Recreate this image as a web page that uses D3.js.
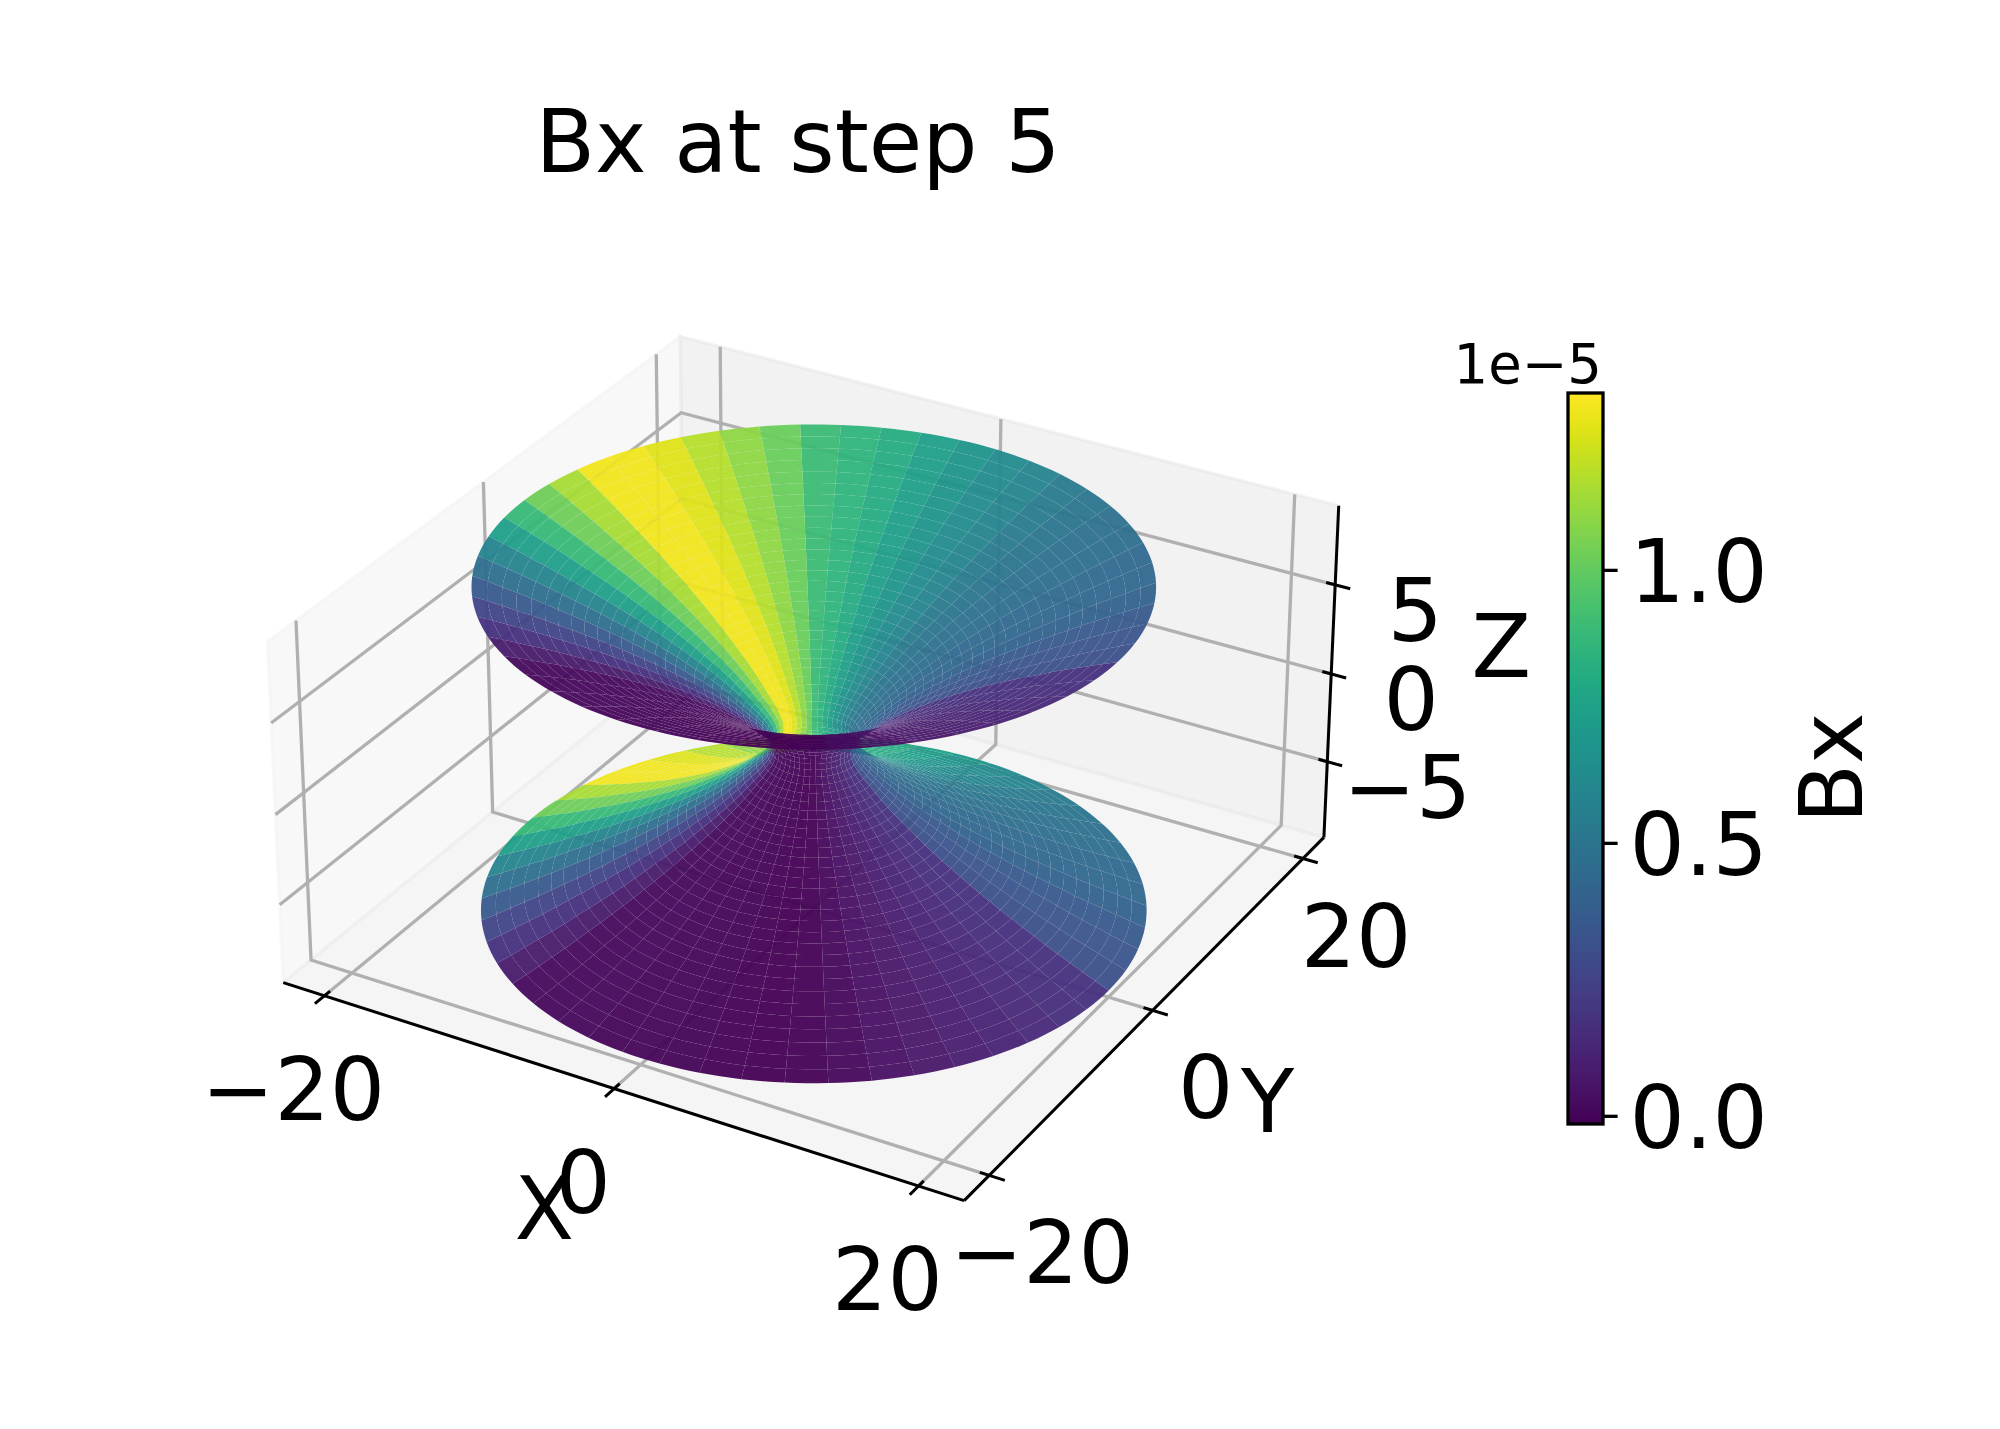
<!DOCTYPE html>
<html><head><meta charset="utf-8">
<script src="https://cdn.jsdelivr.net/npm/d3@7"></script>
<style>html,body{margin:0;background:#fff}svg{display:block}text{font-family:"DejaVu Sans";fill:#000}</style>
</head><body><svg id="c" width="2000" height="1429"></svg>
<script>
// ---- data ----
const titleText = "Bx at step 5";
const bxExponent = "1e\u22125";
const xyTicks = [-20, 0, 20];
const zTicks = [-5, 0, 5];
const barTicks = [0, 0.5, 1];
const barDomain = [-0.015, 1.324];
// Bx (×1e-5) of each of the 50 angular sectors, counter-clockwise from +X
const sectorBx = [0.306,0.333,0.360,0.400,0.427,0.440,0.467,0.480,0.501,0.534,
  0.588,0.628,0.681,0.735,0.802,0.855,0.896,1.016,1.096,1.177,
  1.257,1.297,1.297,1.150,1.029,0.882,0.735,0.588,0.467,0.360,
  0.253,0.172,0.079,0.018,0.012,0.012,0.005,0.001,-0.004,-0.009,
  -0.015,-0.008,0.012,0.039,0.065,0.092,0.112,0.132,0.159,0.172];
// upper half of the surface profile, mirrored for the lower half
const ringZ = [0,0.3,0.6,0.9,1.2,1.5,1.8,2.1,2.4,2.7,3,3.3,3.6,3.9,4.2,4.5,4.8,5.1,5.4,5.7,6,6.3,6.6,6.9,7.2,7.5,7.8,8.1,8.4,8.7,9];
const ringR = [2.5,2.56,2.75,3.05,3.4,3.8,4.2,4.6,5.05,5.5,6,6.5,7.05,7.6,8.15,8.75,9.35,10,10.65,11.3,12,12.7,13.45,14.2,15,15.75,16.55,17.4,18.25,19.1,20];

// ---- 3D view ----
const elev = 29*Math.PI/180, azim = -60*Math.PI/180, dist = 10;
const lim = {x:[-22,22], y:[-22,22], z:[-9,9]};
const pad = a => (a[1]-a[0])/48;
const bx = [lim.x[0]-pad(lim.x), lim.x[1]+pad(lim.x)],
      by = [lim.y[0]-pad(lim.y), lim.y[1]+pad(lim.y)],
      bz = [lim.z[0]-pad(lim.z), lim.z[1]+pad(lim.z)];
const box = [1.19,1.19,1.19*0.485];
const wx = d3.scaleLinear().domain(lim.x).range([0,box[0]]);
const wy = d3.scaleLinear().domain(lim.y).range([0,box[1]]);
const wz = d3.scaleLinear().domain(lim.z).range([0,box[2]]);
const R = box.map(v=>v/2);
const nV = [Math.cos(elev)*Math.cos(azim), Math.cos(elev)*Math.sin(azim), Math.sin(elev)];
const E = R.map((v,i)=>v+dist*nV[i]);
const cross=(a,b)=>[a[1]*b[2]-a[2]*b[1],a[2]*b[0]-a[0]*b[2],a[0]*b[1]-a[1]*b[0]];
const dot=(a,b)=>a[0]*b[0]+a[1]*b[1]+a[2]*b[2];
let uV = cross([0,0,1],nV); const ul=Math.hypot(...uV); uV=uV.map(v=>v/ul);
const vV = cross(nV,uV);
function proj(x,y,z){
  const p=[wx(x)-E[0],wy(y)-E[1],wz(z)-E[2]];
  const ze=dot(p,nV);
  return {px:dot(p,uV)/-ze, py:dot(p,vV)/-ze, depth:-ze};
}
const sx=d3.scaleLinear().domain([0,1]).range([813.8,813.8+6232.6]);
const sy=d3.scaleLinear().domain([0,1]).range([742.9,742.9-6393.8]);
const P=(x,y,z)=>{const p=proj(x,y,z);return [sx(p.px),sy(p.py)];};
const color=d3.scaleSequential(d3.interpolateViridis).domain(barDomain);

const svg=d3.select("#c");
const closed=d3.line().curve(d3.curveLinearClosed);
const open=d3.line();

// panes
const panes=[
 {c:"rgba(242,242,242,0.5)",pts:[[bx[0],by[0],bz[0]],[bx[0],by[1],bz[0]],[bx[0],by[1],bz[1]],[bx[0],by[0],bz[1]]]},
 {c:"rgba(230,230,230,0.5)",pts:[[bx[0],by[1],bz[0]],[bx[1],by[1],bz[0]],[bx[1],by[1],bz[1]],[bx[0],by[1],bz[1]]]},
 {c:"rgba(236,236,236,0.5)",pts:[[bx[0],by[0],bz[0]],[bx[1],by[0],bz[0]],[bx[1],by[1],bz[0]],[bx[0],by[1],bz[0]]]}
];
svg.append("g").selectAll("path").data(panes).join("path")
  .attr("d",d=>closed(d.pts.map(p=>P(...p))))
  .attr("fill",d=>d.c).attr("stroke",d=>d.c).attr("stroke-width",3.3);

// grid
const gridLines=[
 ...xyTicks.map(t=>[[t,by[0],bz[0]],[t,by[1],bz[0]],[t,by[1],bz[1]]]),
 ...xyTicks.map(t=>[[bx[1],t,bz[0]],[bx[0],t,bz[0]],[bx[0],t,bz[1]]]),
 ...zTicks.map(t=>[[bx[0],by[0],t],[bx[0],by[1],t],[bx[1],by[1],t]])
];
svg.append("g").selectAll("path").data(gridLines).join("path")
  .attr("d",d=>open(d.map(p=>P(...p))))
  .attr("fill","none").attr("stroke","#b0b0b0").attr("stroke-width",3.3).attr("stroke-linejoin","miter");

// axis lines + ticks
const axisLines=[
 [[bx[0],by[0],bz[0]],[bx[1],by[0],bz[0]]],
 [[bx[1],by[0],bz[0]],[bx[1],by[1],bz[0]]],
 [[bx[1],by[1],bz[0]],[bx[1],by[1],bz[1]]]
];
const tIn=0.6,tOut=1.0;
const tickLines=[
 ...xyTicks.map(t=>[[t,by[0]+tIn,bz[0]],[t,by[0]-tOut,bz[0]]]),
 ...xyTicks.map(t=>[[bx[1]-tIn,t,bz[0]],[bx[1]+tOut,t,bz[0]]]),
 ...zTicks.map(t=>[[bx[1]-tIn,by[1],t],[bx[1]+tOut,by[1],t]])
];
svg.append("g").selectAll("path").data(axisLines.concat(tickLines)).join("path")
  .attr("d",d=>open(d.map(p=>P(...p))))
  .attr("fill","none").attr("stroke","#000").attr("stroke-width",3);

// tick labels
const fmt=t=>(t<0?"\u2212":"")+Math.abs(t);
const tickLabels=[
 ...xyTicks.map(t=>({s:fmt(t),at:P(t,by[0],bz[0]),dx:-31,dy:92})),
 ...xyTicks.map(t=>({s:fmt(t),at:P(bx[1],t,bz[0]),dx:53,dy:76})),
 ...zTicks.map(t=>({s:fmt(t),at:P(bx[1],by[1],t),dx:80,dy:24}))
];
const fs=87;
svg.append("g").selectAll("text").data(tickLabels).join("text")
  .attr("x",d=>d.at[0]+d.dx).attr("y",d=>d.at[1]+d.dy+32)
  .attr("text-anchor","middle").attr("font-size",fs).text(d=>d.s);

// axis titles
const mid=(a,b)=>(a+b)/2;
const axisTitles=[
 {s:"X",at:P(mid(bx[0],bx[1]),by[0],bz[0]),dx:-70,dy:118},
 {s:"Y",at:P(bx[1],mid(by[0],by[1]),bz[0]),dx:115,dy:90},
 {s:"Z",at:P(bx[1],by[1],mid(bz[0],bz[1])),dx:170,dy:-29}
];
svg.append("g").selectAll("text").data(axisTitles).join("text")
  .attr("x",d=>d.at[0]+d.dx).attr("y",d=>d.at[1]+d.dy+32)
  .attr("text-anchor","middle").attr("font-size",fs).text(d=>d.s);

// surface
const zs=ringZ.slice(1).reverse().map(v=>-v).concat(ringZ);
const rs=ringR.slice(1).reverse().concat(ringR);
const nS=sectorBx.length, step=2*Math.PI/nS;
const arc=[0,0.25,0.5,0.75,1];            // vertices along each ring edge, so the rim stays round
const quads=[];
for(let i=0;i<nS;i++)for(let j=0;j<zs.length-1;j++){
  const lo=arc.map(f=>[rs[j],(i+f)*step,zs[j]]);
  const hi=arc.map(f=>[rs[j+1],(i+f)*step,zs[j+1]]).reverse();
  const c=lo.concat(hi).map(([r,t,z])=>proj(r*Math.cos(t),r*Math.sin(t),z));
  quads.push({v:sectorBx[i],pts:c.map(p=>[sx(p.px),sy(p.py)]),depth:d3.mean(c,p=>p.depth)});
}
quads.sort((a,b)=>b.depth-a.depth);
svg.append("g").selectAll("path").data(quads).join("path")
  .attr("d",d=>closed(d.pts)).attr("fill",d=>color(d.v)).attr("fill-opacity",0.95);

// title
svg.append("text").attr("x",798).attr("y",172).attr("text-anchor","middle").attr("font-size",fs).text(titleText);

// colourbar
const barX=[1568,1603], barY=[1124,393];
const barScale=d3.scaleLinear().domain(barDomain).range(barY);
const steps=d3.range(256).map(i=>barDomain[0]+(barDomain[1]-barDomain[0])*i/256);
const h=(barY[0]-barY[1])/256;
svg.append("g").selectAll("rect").data(steps).join("rect")
  .attr("x",barX[0]).attr("width",barX[1]-barX[0])
  .attr("y",d=>barScale(d)-h-0.5).attr("height",h+1)
  .attr("fill",d=>color(d+(barDomain[1]-barDomain[0])/512));
svg.append("rect").attr("x",barX[0]).attr("y",barY[1]).attr("width",barX[1]-barX[0]).attr("height",barY[0]-barY[1])
  .attr("fill","none").attr("stroke","#000").attr("stroke-width",3.3);
const barAxis=d3.axisRight(barScale).tickValues(barTicks).tickFormat(d3.format(".1f")).tickSize(14.6).tickPadding(12);
const ag=svg.append("g").attr("transform",`translate(${barX[1]},0)`).call(barAxis);
ag.select(".domain").remove();
ag.selectAll("line").attr("stroke","#000").attr("stroke-width",3.3);
ag.selectAll("text").attr("font-size",fs).attr("font-family","DejaVu Sans").attr("fill","#000").attr("dy","0.36em");
svg.append("text").attr("x",1602).attr("y",383).attr("text-anchor","end").attr("font-size",54.5).text(bxExponent);
svg.append("text").attr("transform","translate(1862,768) rotate(-90)").attr("text-anchor","middle").attr("font-size",fs).text("Bx");
</script></body></html>
